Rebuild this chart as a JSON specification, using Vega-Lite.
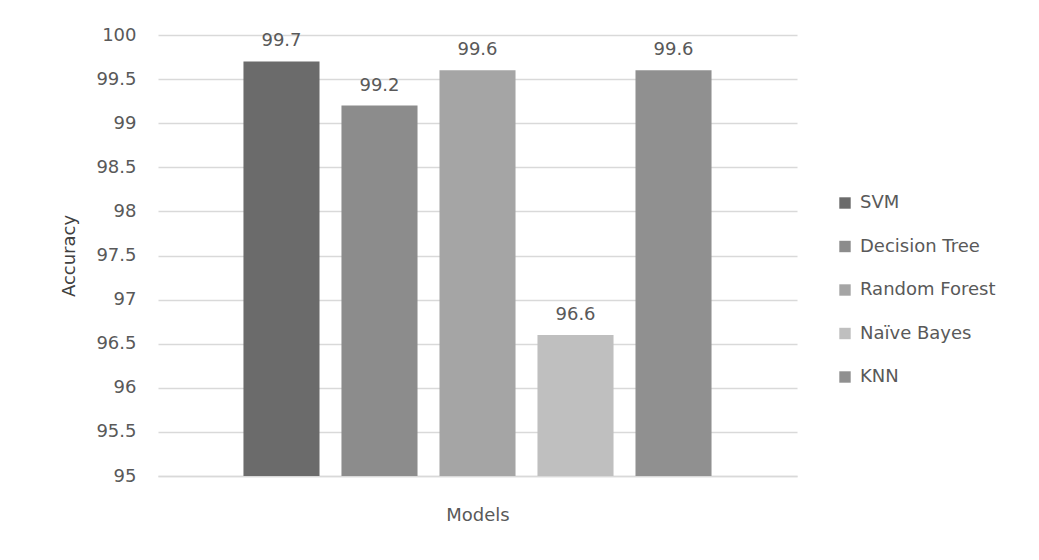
{
  "$schema": "https://vega.github.io/schema/vega-lite/v6.json",
  "autosize": "none",
  "width": 639,
  "height": 441,
  "padding": {"left": 158, "top": 35, "right": 242, "bottom": 84},
  "background": "white",
  "config": {
    "font": "DejaVu Sans",
    "view": {"stroke": null}
  },
  "data": {
    "values": [
      {"model": "SVM", "accuracy": 99.7},
      {"model": "Decision Tree", "accuracy": 99.2},
      {"model": "Random Forest", "accuracy": 99.6},
      {"model": "Naïve Bayes", "accuracy": 96.6},
      {"model": "KNN", "accuracy": 99.6}
    ]
  },
  "encoding": {
    "x": {
      "field": "model",
      "type": "nominal",
      "sort": null,
      "scale": {"paddingInner": 0.224, "paddingOuter": 0.872},
      "axis": {
        "title": "Models",
        "labels": false,
        "ticks": false,
        "domainColor": "#d9d9d9",
        "domainWidth": 1.5,
        "titleFontSize": 18,
        "titleFontWeight": "normal",
        "titleColor": "#595959",
        "titlePadding": 30
      }
    },
    "y": {
      "field": "accuracy",
      "type": "quantitative",
      "scale": {"domain": [95, 100], "zero": false, "nice": false},
      "axis": {
        "title": "Accuracy",
        "values": [95, 95.5, 96, 96.5, 97, 97.5, 98, 98.5, 99, 99.5, 100],
        "format": "~g",
        "domain": false,
        "ticks": false,
        "labelPadding": 22,
        "labelFontSize": 18,
        "labelColor": "#595959",
        "gridColor": "#d9d9d9",
        "gridWidth": 1.5,
        "titleFontSize": 18,
        "titleFontWeight": "normal",
        "titleColor": "#404040",
        "titlePadding": 17
      }
    }
  },
  "layer": [
    {
      "mark": {"type": "bar", "clip": true},
      "encoding": {
        "y2": {"datum": 95},
        "color": {
          "field": "model",
          "type": "nominal",
          "sort": null,
          "scale": {
            "domain": ["SVM", "Decision Tree", "Random Forest", "Naïve Bayes", "KNN"],
            "range": ["#6b6b6b", "#8c8c8c", "#a5a5a5", "#bfbfbf", "#909090"]
          },
          "legend": {
            "title": null,
            "orient": "none",
            "legendX": 678,
            "legendY": 159,
            "symbolType": "square",
            "symbolSize": 130,
            "symbolStrokeWidth": 0,
            "labelFontSize": 18,
            "labelColor": "#595959",
            "labelOffset": 6,
            "rowPadding": 25.5
          }
        }
      }
    },
    {
      "mark": {"type": "text", "baseline": "bottom", "dy": -11, "fontSize": 18, "color": "#595959"},
      "encoding": {
        "text": {"field": "accuracy", "type": "quantitative", "format": ".1f"}
      }
    }
  ]
}
